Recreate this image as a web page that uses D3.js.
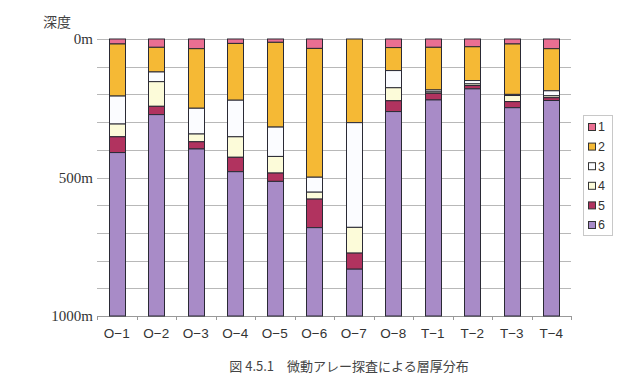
<!DOCTYPE html>
<html><head><meta charset="utf-8">
<script src="https://cdn.jsdelivr.net/npm/d3@7/dist/d3.min.js"></script>
<style>
html,body{margin:0;padding:0;background:#fff;}
svg{display:block;}
</style></head>
<body>
<svg id="c" width="639" height="382"></svg>
<script>
const sites = ["O−1","O−2","O−3","O−4","O−5","O−6","O−7","O−8","T−1","T−2","T−3","T−4"];
const layers = ["1","2","3","4","5","6"];
// layer thicknesses (m) per site
const layer1 = [18,30,35,16,12,34,0,31,30,28,18,35];
const layer2 = [188,89,215,205,306,465,302,83,154,122,182,152];
const layer3 = [101,35,93,132,106,54,378,62,7,12,4,18];
const layer4 = [46,89,28,74,60,25,93,47,5,6,22,7];
const layer5 = [57,30,26,52,30,103,58,39,24,12,22,10];
const layer6 = [590,727,603,521,486,319,169,738,780,820,752,778];
const yTicks = [0,500,1000];
const yTickLabels = ["0m","500m","1000m"];
const colors = ["#ea6f92","#f5b935","#fbfcff","#fcfbd9","#b1335f","#a88bc7"];

(function(){
const series = [layer1,layer2,layer3,layer4,layer5,layer6];
const table = sites.map((s,i)=>{const o={site:s}; layers.forEach((l,j)=>o[l]=series[j][i]); return o;});
const stacked = d3.stack().keys(layers)(table);

const svg = d3.select("#c");
const pL=97, pR=571, pT=39, pB=316;
const xb = d3.scaleBand().domain(sites).range([pL,pR]);
const y = d3.scaleLinear().domain([0,1000]).range([pT,pB]);

// gridlines
svg.append("g").selectAll("line").data(d3.range(0,1000,100)).join("line")
  .attr("x1",pL).attr("x2",pR).attr("y1",d=>Math.round(y(d))+0.5).attr("y2",d=>Math.round(y(d))+0.5)
  .attr("stroke","#b8b8b8").attr("stroke-width",1);

// bottom axis
svg.append("line").attr("x1",pL).attr("x2",pR).attr("y1",y(1000)+0.5).attr("y2",y(1000)+0.5)
  .attr("stroke","#999");
svg.append("g").selectAll("line").data(d3.range(sites.length+1)).join("line")
  .attr("x1",i=>Math.round(pL+i*xb.step())+0.5).attr("x2",i=>Math.round(pL+i*xb.step())+0.5)
  .attr("y1",y(1000)).attr("y2",y(1000)+4).attr("stroke","#999");

// bars
svg.append("g").selectAll("g").data(stacked).join("g")
  .attr("fill",(d,i)=>colors[i])
  .selectAll("rect").data(d=>d).join("rect")
  .attr("x",(d,i)=>Math.round(xb(sites[i])+xb.bandwidth()/2-8)+0.5)
  .attr("width",16)
  .attr("y",d=>y(d[0]))
  .attr("height",d=>Math.max(0,y(d[1])-y(d[0])))
  .attr("stroke",d=>(d[1]-d[0])>0?"#2a2a35":"none").attr("stroke-width",1);

// y labels
svg.append("g").selectAll("text").data(yTicks).join("text")
  .attr("x",93).attr("y",d=>y(d)).attr("dy","0.35em").attr("text-anchor","end")
  .attr("font-family","Liberation Serif, DejaVu Serif, serif").attr("font-size",15)
  .attr("fill","#333").text((d,i)=>yTickLabels[i]);
svg.append("text").attr("x",43).attr("y",27).attr("font-family","Noto Sans CJK JP, sans-serif")
  .attr("font-size",14).attr("fill","#444").text("深度");

// x labels
svg.append("g").selectAll("text").data(sites).join("text")
  .attr("x",d=>xb(d)+xb.bandwidth()/2).attr("y",338).attr("text-anchor","middle")
  .attr("font-family","Liberation Sans, Arial, sans-serif").attr("font-size",13.5)
  .attr("fill","#333").text(d=>d);

// legend
const lg = svg.append("g");
lg.append("rect").attr("x",583.5).attr("y",115.5).attr("width",29).attr("height",120)
  .attr("fill","#fff").attr("stroke","#c8c8c8");
const items = lg.selectAll("g").data(layers).join("g")
  .attr("transform",(d,i)=>`translate(588,${127+i*19.6})`);
items.append("rect").attr("x",0.5).attr("y",-3.5).attr("width",7).attr("height",7)
  .attr("fill",(d,i)=>colors[i]).attr("stroke","#333");
items.append("text").attr("x",10).attr("y",0).attr("dy","0.35em")
  .attr("font-family","Liberation Sans, Arial, sans-serif").attr("font-size",12.5)
  .attr("fill","#333").text(d=>d);

// caption
svg.append("text").attr("x",349).attr("y",371).attr("text-anchor","middle")
  .attr("font-family","Noto Sans CJK JP, serif").attr("font-size",13).attr("fill","#444")
  .text("図 4.5.1　微動アレー探査による層厚分布");
})();
</script>
</body></html>
